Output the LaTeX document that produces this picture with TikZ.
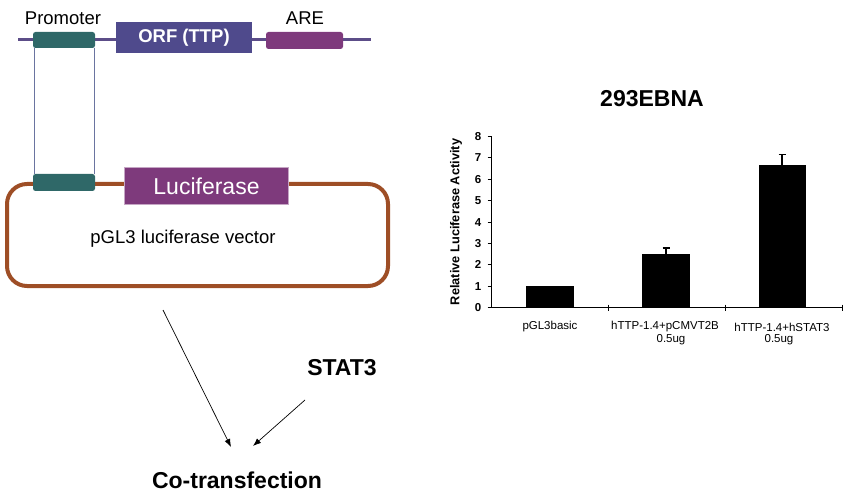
\documentclass[tikz,border=0pt]{standalone}
\usepackage{fontspec}
\setmainfont{Liberation Sans}
\usetikzlibrary{arrows.meta}
\definecolor{teal1}{HTML}{2F6868}
\definecolor{orfc}{HTML}{4F4A8C}
\definecolor{purp}{HTML}{7E3A7C}
\definecolor{linec}{HTML}{5C4D88}
\definecolor{vlinec}{HTML}{6A74A0}
\definecolor{brownc}{HTML}{9E4E26}
\tikzset{
  gene/.style={rounded corners=2.5pt, draw=none},
  lbl/.style={font=\fontsize{18.5}{20}\selectfont, inner sep=0pt},
  blbl/.style={font=\fontsize{23}{25}\selectfont\bfseries, inner sep=0pt},
  tick/.style={font=\fontsize{11.5}{13}\selectfont\bfseries, inner sep=0pt},
  xlab/.style={font=\fontsize{11.5}{12}\selectfont, inner sep=0pt, align=center},
  bar/.style={fill=black, draw=none},
  arr/.style={-{Latex[length=8pt,width=6pt]}, line width=0.7pt}
}
\begin{document}
\begin{tikzpicture}[x=1pt,y=-1pt]
\useasboundingbox (0,0) rectangle (855,500);
% top construct
\draw[linec, line width=3pt] (18,40) coordinate (tl) -- (371,40) coordinate (tr);
\fill[teal1, gene] (33,32) rectangle (95,48);
\node[fill=orfc, minimum width=136pt, minimum height=31pt, inner sep=0pt, text=white,
  font=\fontsize{18.5}{20}\selectfont\bfseries] (orf) at (184,37.5) {ORF (TTP)};
\fill[purp, gene] (266,32) rectangle (343,49);
\node[lbl] (prom) at (63,18) {Promoter};
\node[lbl] (are) at (305,18) {ARE};
\coordinate (v1a) at (34.3,48); \coordinate (v1b) at (34.3,174);
\coordinate (v2a) at (94.3,48); \coordinate (v2b) at (94.3,174);
\draw[vlinec, line width=0.8pt] (v1a) -- (v1b);
\draw[vlinec, line width=0.8pt] (v2a) -- (v2b);
% vector
\draw[brownc, line width=4pt, rounded corners=20pt] (7,184) rectangle (388,286);
\fill[teal1, gene] (33,174) rectangle (95,191);
\node[fill=purp, draw=purp!45!white, line width=1pt, minimum width=164pt, minimum height=37pt,
  inner sep=0pt, text=white, font=\fontsize{23}{25}\selectfont] (luc) at (206.5,186.5) {Luciferase};
\node[font=\fontsize{18.5}{20}\selectfont, inner sep=0pt] (vec) at (183,239) {pGL3 luciferase vector};
% arrows
\node[blbl] (stat) at (342,368) {STAT3};
\node[blbl] (cot) at (237,480) {Co-transfection};
\coordinate (a1s) at (163,310); \coordinate (a1e) at (231,447);
\coordinate (a2s) at (305,400); \coordinate (a2e) at (253,446);
\draw[arr] (a1s) -- (a1e);
\draw[arr] (a2s) -- (a2e);
% chart
\node[blbl] (title) at (652,99) {293EBNA};
\coordinate (o) at (491.5,307.7);
\coordinate (ytop) at (491.5,136.5);
\coordinate (xend) at (842,307.7);
\draw[line width=1.2pt] (ytop) -- (o) -- (xend);
\foreach \v in {0,...,8} {
  \draw[line width=1pt] (487.5,307.7-21.4*\v) -- (491.5,307.7-21.4*\v);
  \node[tick] (yt\v) at (478,307.7-21.4*\v) {\v};
}
\foreach \xx in {608,725,842} {
  \draw[line width=1pt] (\xx,304.7) -- (\xx,310.7);
}
\node[font=\fontsize{12.8}{14}\selectfont\bfseries, rotate=90, inner sep=0pt] (ylab) at (456,222) {Relative Luciferase Activity};
% bars
\fill[bar] (526,307.7) rectangle (574,307.7-21.4*1.01);
\fill[bar] (642,307.7) rectangle (690,307.7-21.4*2.51);
\fill[bar] (759,307.7) rectangle (806,307.7-21.4*6.67);
% error bars
\draw[line width=1.6pt] (550,307.7-21.4*1.01) -- (550,307.7-21.4*1.03);
\draw[line width=1.6pt] (666,307.7-21.4*2.51) -- (666,307.7-21.4*2.78);
\draw[line width=1.6pt] (662.5,307.7-21.4*2.78) -- (669.5,307.7-21.4*2.78);
\draw[line width=1.6pt] (782,307.7-21.4*6.67) -- (782,307.7-21.4*7.16);
\draw[line width=1.6pt] (778.5,307.7-21.4*7.16) -- (785.5,307.7-21.4*7.16);
% x labels
\node[xlab] (x1) at (550,327) {pGL3basic};
\node[xlab] (x2) at (665,327) {hTTP-1.4+pCMVT2B};
\node[xlab] (x2b) at (671,339.5) {0.5ug};
\node[xlab] (x3) at (782,327) {hTTP-1.4+hSTAT3};
\node[xlab] (x3b) at (779,339.5) {0.5ug};
\end{tikzpicture}
\end{document}
